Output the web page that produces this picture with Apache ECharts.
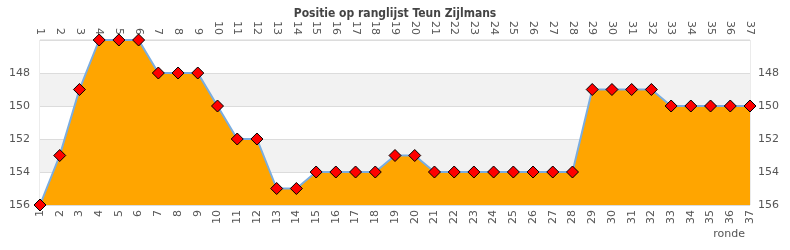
<!DOCTYPE html>
<html><head><meta charset="utf-8">
<script src="https://cdn.jsdelivr.net/npm/echarts@6/dist/echarts.min.js"></script>
<style>html,body{margin:0;padding:0;background:#fff}#c{width:790px;height:250px}</style>
</head><body><div id="c"></div>
<script>
const titleText = "Positie op ranglijst Teun Zijlmans";
const axisName = "ronde";
const rounds = ["1","2","3","4","5","6","7","8","9","10","11","12","13","14","15","16","17","18","19","20","21","22","23","24","25","26","27","28","29","30","31","32","33","34","35","36","37"];
const positions = [156,153,149,146,146,146,148,148,148,150,152,152,155,155,154,154,154,154,153,153,154,154,154,154,154,154,154,154,149,149,149,149,150,150,150,150,150];
const yMin = 146, yMax = 156, yStep = 2;

const chart = echarts.init(document.getElementById('c'), null, {renderer:'canvas'});
const lbl = {color:'#555', fontFamily:'DejaVu Sans', fontSize:11};
const yAx = (pos) => ({
  type:'value', position:pos, inverse:true, min:yMin, max:yMax, interval:yStep,
  axisLine:{show:false}, axisTick:{show:false},
  axisLabel:Object.assign({}, lbl, {showMinLabel:false, margin: pos==='left'?10:8}),
  splitLine:{show: pos==='left', lineStyle:{color:'#dcdcdc', width:1}},
  splitArea:{show: pos==='left', areaStyle:{color:['#ffffff','#f2f2f2']}}
});
const xAx = (pos) => ({
  type:'category', position:pos, data:rounds, boundaryGap:false,
  axisLine:{show:false}, axisTick:{show:false}, splitLine:{show:false},
  axisLabel:Object.assign({}, lbl, {rotate:90, interval:0, margin:5})
});
chart.setOption({
  animation:false,
  title:[
    {text:titleText, left:'center', top:3, textStyle:{fontFamily:'DejaVu Sans Condensed', fontWeight:'bold', fontSize:12, color:'#444'}},
    {text:axisName, right:40, bottom:5, textStyle:{fontFamily:'DejaVu Sans', fontWeight:'normal', fontSize:11, color:'#555'}}
  ],
  grid:{left:40, right:40, top:40, bottom:45, show:true, borderColor:'#d8d8d8', borderWidth:1, backgroundColor:'transparent'},
  xAxis:[xAx('bottom'), xAx('top')],
  yAxis:[yAx('left'), yAx('right')],
  series:[{
    type:'line', data:positions, xAxisIndex:0, yAxisIndex:0,
    symbol:'diamond', symbolSize:12,
    itemStyle:{color:'#ff0000', borderColor:'#000', borderWidth:1},
    lineStyle:{color:'#7aade0', width:2},
    areaStyle:{color:'#ffa500', opacity:1, origin:'end'},
    clip:false
  }]
});
</script></body></html>
